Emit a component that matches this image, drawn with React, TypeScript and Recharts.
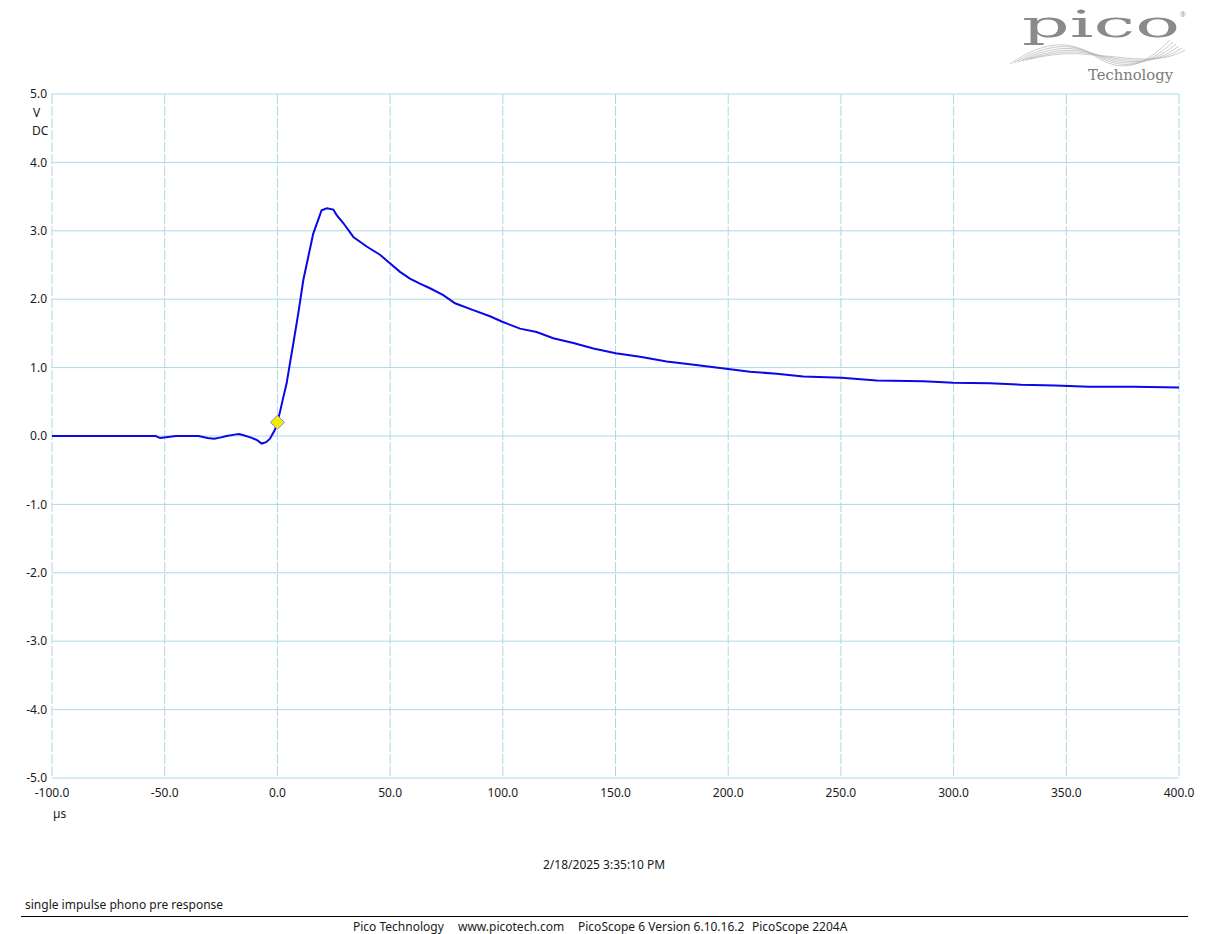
import {
  LineChart,
  Line,
  XAxis,
  YAxis,
  CartesianGrid,
  ReferenceDot,
} from 'recharts';

// time in µs, voltage in V
const timeUs = [
  -100, -90, -80, -70, -60, -54, -52, -45, -40, -35, -31, -28, -25, -22.5, -19,
  -17, -15, -12, -9, -7, -5, -3.3, -1.1, 0, 1.2, 2.5, 4.1, 5.5, 7.1, 9.3, 11.5,
  13.7, 15.9, 18.1, 19.6, 22, 24.8, 26.3, 29.3, 33.7, 39.6, 45.5, 49, 54.4, 58.8,
  63, 67.7, 73.6, 78.8, 86.9, 94.3, 99.8, 107.6, 115, 122.4, 131.3, 140.2, 150.1,
  160.9, 172.7, 183, 200, 209.7, 221.5, 233.3, 250.3, 265.9, 286.6, 299.9, 316,
  330, 345, 360, 380, 400,
];
const volts = [
  0, 0, 0, 0, 0, 0, -0.03, 0, 0, 0, -0.03, -0.04, -0.02, 0, 0.02,
  0.03, 0.01, -0.02, -0.06, -0.11, -0.09, -0.04, 0.09, 0.2, 0.36, 0.55, 0.77, 1.05, 1.36, 1.8, 2.28,
  2.62, 2.96, 3.16, 3.3, 3.33, 3.31, 3.23, 3.11, 2.91, 2.77, 2.65, 2.55, 2.4, 2.3,
  2.23, 2.16, 2.06, 1.94, 1.84, 1.75, 1.67, 1.57, 1.52, 1.43, 1.36, 1.28, 1.21,
  1.16, 1.09, 1.05, 0.98, 0.94, 0.91, 0.87, 0.85, 0.81, 0.8, 0.78, 0.77,
  0.75, 0.74, 0.72, 0.72, 0.71,
];
const xTicks = [-100, -50, 0, 50, 100, 150, 200, 250, 300, 350, 400];
const yTicks = [-5, -4, -3, -2, -1, 0, 1, 2, 3, 4, 5];
const trigger = { t: 0, v: 0.2 };

const data = timeUs.map((t, i) => ({ t, v: volts[i] }));

const GRID = '#add8e6';
const FONT = '"Noto Sans", "Open Sans", sans-serif';
const SERIF = '"DejaVu Serif", "Liberation Serif", serif';

function Diamond({ cx, cy }: { cx?: number; cy?: number }) {
  if (cx == null || cy == null) return null;
  const r = 7;
  return (
    <polygon
      points={`${cx},${cy - r} ${cx + r},${cy} ${cx},${cy + r} ${cx - r},${cy}`}
      fill="#f7ec00"
      stroke="#7d86e8"
      strokeWidth={1}
    />
  );
}

function PicoLogo() {
  return (
    <svg
      width={200}
      height={90}
      style={{ position: 'absolute', left: 1000, top: 0 }}
    >
      {[0, 1, 2, 3, 4, 5].map((k) => (
        <path
          key={k}
          d={`M${10 + k * 4},${64 - k} C${45 + k * 5},${40 + k * 2} ${70 + k * 3},${40 + k * 3} ${95 + k * 2},${56} S${140 + k * 4},${70 - k} ${170 + k * 3},${40 + k * 2}`}
          fill="none"
          stroke="#b5b5b5"
          strokeWidth={0.7}
        />
      ))}
      <text
        x={22}
        y={37}
        fontFamily={SERIF}
        fontSize={38}
        fill="#8a8a8a"
        textLength={158}
        lengthAdjust="spacingAndGlyphs"
      >
        pico
      </text>
      <text x={180} y={17} fontSize={7} fill="#999" fontFamily={FONT}>
        ®
      </text>
      <text
        x={88}
        y={80}
        fontFamily={SERIF}
        fontSize={14}
        fill="#7a7a7a"
        textLength={85}
        lengthAdjust="spacingAndGlyphs"
      >
        Technology
      </text>
    </svg>
  );
}

export default function App() {
  const txt = { position: 'absolute' as const, fontSize: 12, color: '#1a1a1a', whiteSpace: 'nowrap' as const };
  return (
    <div
      style={{
        position: 'absolute',
        left: 0,
        top: 0,
        width: 1209,
        height: 934,
        background: '#fff',
        fontFamily: FONT,
        overflow: 'hidden',
      }}
    >
      <LineChart
        width={1209}
        height={934}
        data={data}
        margin={{ top: 94, right: 30, bottom: 126, left: 0 }}
      >
        <CartesianGrid vertical={false} stroke={GRID} strokeWidth={1} />
        <CartesianGrid horizontal={false} stroke={GRID} strokeWidth={1} strokeDasharray="10 2" />
        <XAxis
          dataKey="t"
          type="number"
          domain={[-100, 400]}
          ticks={xTicks}
          axisLine={false}
          tickLine={false}
          tickSize={0}
          tickMargin={10}
          height={30}
          tick={{ fill: '#1a1a1a', fontSize: 12, fontFamily: FONT }}
          tickFormatter={(v: number) => v.toFixed(1)}
        />
        <YAxis
          type="number"
          domain={[-5, 5]}
          ticks={yTicks}
          axisLine={false}
          tickLine={false}
          tickSize={0}
          tickMargin={5}
          width={52}
          tick={{ fill: '#1a1a1a', fontSize: 12, fontFamily: FONT }}
          tickFormatter={(v: number) => v.toFixed(1)}
        />
        <Line
          dataKey="v"
          type="linear"
          stroke="#0808e8"
          strokeWidth={2}
          dot={false}
          isAnimationActive={false}
        />
        <ReferenceDot x={trigger.t} y={trigger.v} shape={<Diamond />} />
      </LineChart>

      <div style={{ ...txt, left: 33, top: 104 }}>V</div>
      <div style={{ ...txt, left: 32, top: 122 }}>DC</div>
      <div style={{ ...txt, left: 53, top: 805 }}>µs</div>
      <div style={{ ...txt, left: 543, top: 856 }}>2/18/2025 3:35:10 PM</div>
      <div style={{ ...txt, left: 25, top: 896 }}>single impulse phono pre response</div>
      <div
        style={{
          position: 'absolute',
          left: 21,
          top: 916,
          width: 1167,
          height: 0,
          borderTop: '1px solid #000',
        }}
      />
      <div style={{ ...txt, left: 353, top: 918 }}>Pico Technology</div>
      <div style={{ ...txt, left: 458, top: 918 }}>www.picotech.com</div>
      <div style={{ ...txt, left: 578, top: 918 }}>PicoScope 6 Version 6.10.16.2</div>
      <div style={{ ...txt, left: 752, top: 918 }}>PicoScope 2204A</div>
      <PicoLogo />
    </div>
  );
}
